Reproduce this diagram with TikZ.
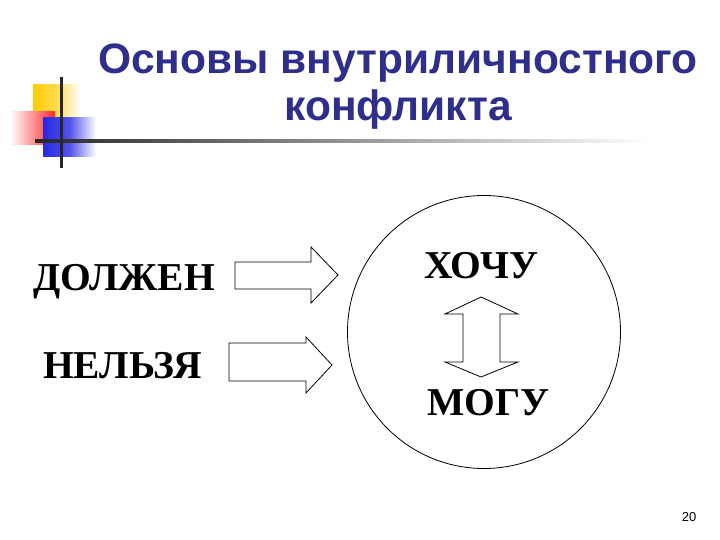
\documentclass[tikz,border=0pt]{standalone}
\usepackage{fontspec}
\setmainfont{Liberation Serif}
\newfontfamily\titlefont{Liberation Sans}
\definecolor{titleblue}{RGB}{46,46,140}
\definecolor{logoyellow}{RGB}{255,204,0}
\definecolor{logored}{RGB}{255,40,40}
\definecolor{logoblue}{RGB}{40,40,230}
\tikzset{
  lbl/.style={font=\bfseries\fontsize{39.5}{45}\selectfont, inner sep=0pt, anchor=base west},
  ttl/.style={font=\titlefont\bfseries\fontsize{42.5}{48}\selectfont, text=titleblue, inner sep=0pt, anchor=base},
  outline/.style={draw=black, line width=0.8pt, fill=white, line join=miter}
}
\begin{document}
\begin{tikzpicture}[x=1pt,y=-1pt]
\useasboundingbox (0,0) rectangle (720,540);
% logo
\shade[left color=logoyellow, right color=white, middle color=logoyellow!70] (33,85) rectangle (80,118);
\shade[left color=white, right color=logored] (10,112) rectangle (55,145);
\shade[left color=logoblue, right color=white, middle color=logoblue!80] (43,118) rectangle (96,157);
\shade[left color=black!85, right color=white] (35,139.5) rectangle (650,142.5);
\fill[black!85] (59.5,77) rectangle (62.5,168);
% title
\node[ttl] (t1) at (398,74) {Основы внутриличностного};
\node[ttl] (t2) at (398,121) {конфликта};
% labels
\node[lbl] (dolzhen) at (33,290) {ДОЛЖЕН};
\node[lbl] (nelzya) at (43,378) {НЕЛЬЗЯ};
\node[lbl] (hochu) at (424,278) {ХОЧУ};
\node[lbl] (mogu) at (427,415) {МОГУ};
% circle
\draw[line width=0.8pt] (484,332) circle (136.5);
% arrows
\draw[outline] (235,262) -- (311,262) -- (311,247) -- (338,275) -- (311,303) -- (311,289) -- (235,289) -- cycle;
\draw[outline] (229,343) -- (306,343) -- (306,337) -- (332,365) -- (306,393) -- (306,381) -- (229,381) -- cycle;
\draw[outline] (481,297) -- (518,314) -- (500,314) -- (500,362) -- (518,362) -- (481,377) -- (445,362) -- (463,362) -- (463,314) -- (445,314) -- cycle;
% page number
\node[font=\titlefont\fontsize{13}{15}\selectfont, inner sep=0pt, anchor=base] (pg) at (689,521) {20};
\end{tikzpicture}
\end{document}
